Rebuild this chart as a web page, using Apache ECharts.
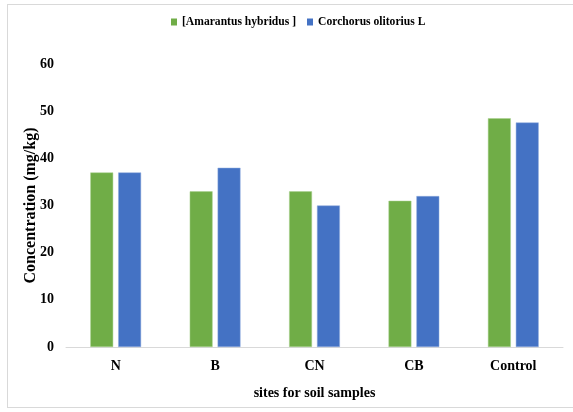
<!DOCTYPE html>
<html><head><meta charset="utf-8">
<script src="https://cdn.jsdelivr.net/npm/echarts@6/dist/echarts.min.js"></script>
<style>html,body{margin:0;padding:0;background:#fff}#c{width:573px;height:412px}
#frame{position:absolute;left:7px;top:4px;width:580px;height:404px;border:1px solid #d9d9d9;box-sizing:border-box;pointer-events:none}</style>
</head><body><div id="c"></div><div id="frame"></div>
<script>
const categories = ['N', 'B', 'CN', 'CB', 'Control'];
const amaranthus = [37, 33, 33, 31, 48.5];
const corchorus = [37, 38, 30, 32, 47.6];
const seriesNames = ['[Amarantus hybridus ]', 'Corchorus olitorius L'];
const yTicks = { min: 0, max: 60, interval: 10 };

const font = 'Liberation Serif, Times New Roman, serif';
const chart = echarts.init(document.getElementById('c'));
chart.setOption({
  animation: false,
  textStyle: { fontFamily: font },
  legend: {
    top: 11, left: 166, itemWidth: 6, itemHeight: 7, itemGap: 11,
    icon: 'rect',
    itemStyle: { borderWidth: 0 },
    textStyle: { fontFamily: font, fontWeight: 'bold', fontSize: 11.6, color: '#000' },
    data: seriesNames
  },
  grid: { left: 66, right: 10, top: 64, bottom: 65, containLabel: false },
  xAxis: {
    type: 'category', data: categories,
    axisLine: { lineStyle: { color: '#d9d9d9' } },
    axisTick: { show: false },
    axisLabel: { color: '#000', fontWeight: 'bold', fontSize: 14, fontFamily: font, margin: 12 },
    name: 'sites for soil samples', nameLocation: 'middle', nameGap: 39, nameMoveOverlap: false,
    nameTextStyle: { color: '#000', fontWeight: 'bold', fontSize: 14, fontFamily: font }
  },
  yAxis: {
    type: 'value', min: yTicks.min, max: yTicks.max, interval: yTicks.interval,
    splitLine: { show: false },
    axisLine: { show: false }, axisTick: { show: false },
    axisLabel: { color: '#000', fontWeight: 'bold', fontSize: 14, fontFamily: font, margin: 12 },
    name: 'Concentration (mg/kg)', nameLocation: 'middle', nameGap: 27, nameRotate: 90, nameMoveOverlap: false,
    nameTextStyle: { color: '#000', fontWeight: 'bold', fontSize: 16, fontFamily: font }
  },
  series: [
    { name: seriesNames[0], type: 'bar', data: amaranthus, barWidth: '23%', barGap: '22%',
      itemStyle: { color: '#70ad47', borderColor: '#a9d18e', borderWidth: 0.5 } },
    { name: seriesNames[1], type: 'bar', data: corchorus, barWidth: '23%', barGap: '22%',
      itemStyle: { color: '#4472c4', borderColor: '#8faadc', borderWidth: 0.5 } }
  ]
});
</script></body></html>
